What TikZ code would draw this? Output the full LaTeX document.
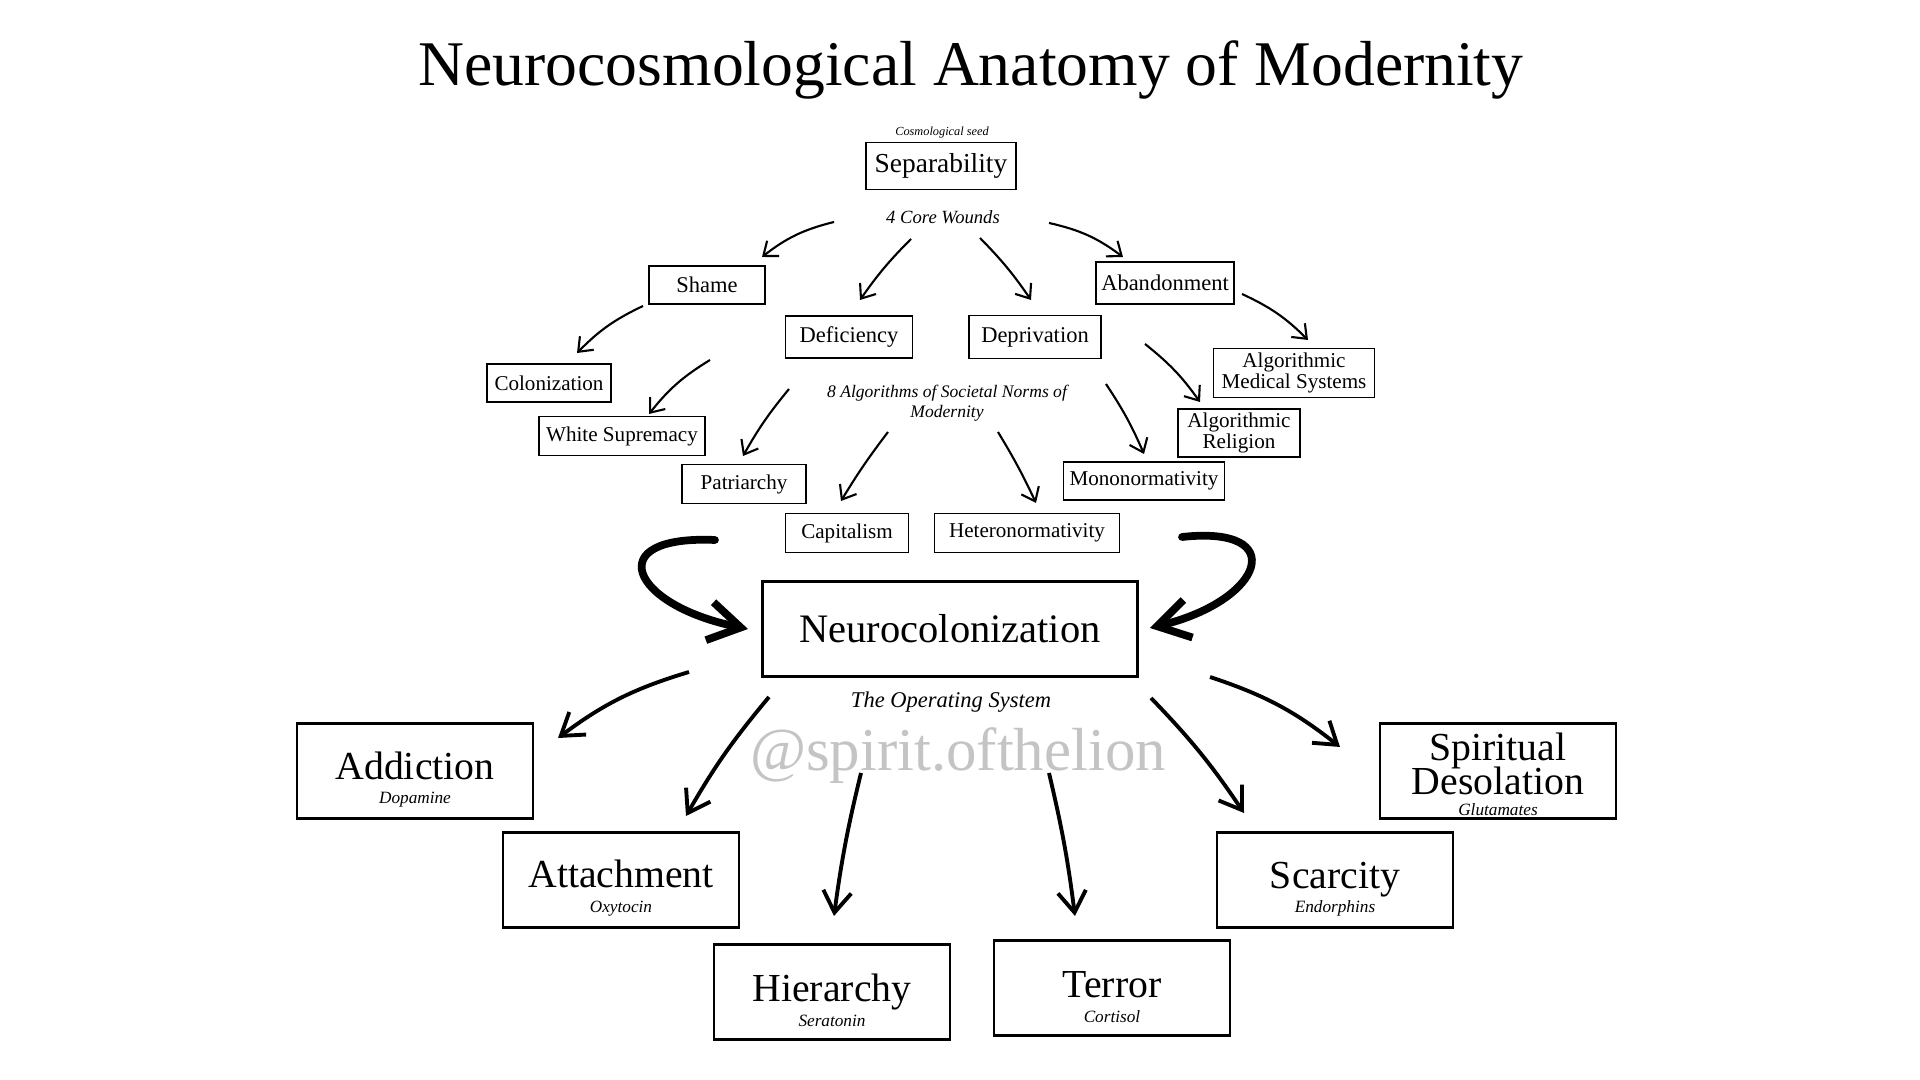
\documentclass[tikz,border=0pt]{standalone}
\usepackage{fontspec}
\setmainfont{Liberation Serif}
\usetikzlibrary{arrows.meta}
\definecolor{wasserzeichen}{RGB}{196,196,196}
\newcommand{\stoff}[1]{{\fontsize{4.9}{5}\selectfont\itshape #1}}
\newcommand{\folge}[2]{\rule{0pt}{12.6pt}#1\\\stoff{#2}}

\begin{document}
\begin{tikzpicture}[x=0.01cm, y=-0.01cm]

% 0. Blattgroesse und weisser Hintergrund
\fill[white] (0,0) rectangle (1920,1080);
\useasboundingbox (0,0) rectangle (1920,1080);

\tikzset{
  kasten/.style={draw, line width=0.4pt, inner sep=1pt, minimum height=0.38cm, align=center, font=\fontsize{6}{6.2}\selectfont},
  wundkasten/.style={kasten, font=\fontsize{6.4}{7}\selectfont},
  grosskasten/.style={draw, line width=0.75pt, inner sep=1pt, minimum width=2.36cm, minimum height=0.95cm, align=center, font={\fontsize{11.3}{7}\selectfont\lineskiplimit=-20pt}},
  notiz/.style={align=center, font=\fontsize{5.3}{5.6}\selectfont\itshape},
  duenn/.style={-{Straight Barb[length=3.5pt, width=5.5pt]}, line width=0.6pt},
  mittel/.style={-{Straight Barb[length=6pt, width=8pt]}, line width=1.1pt},
  pinsel/.style={-{Straight Barb[length=9pt, width=11pt]}, line width=2.2pt, line cap=round}
}

% 1. Titel
\node[font=\fontsize{18.1}{20}\selectfont] (titel) at (971,70) {Neurocosmological Anatomy of Modernity};

% 2. Kosmologischer Samen und die vier Wunden
\node[font=\fontsize{3.5}{4}\selectfont\itshape] (samen) at (942,133) {Cosmological seed};
\node[draw, line width=0.4pt, inner sep=1pt, minimum width=1.5cm, minimum height=0.47cm, font=\fontsize{7.8}{9}\selectfont] (separ) at (941,166) {Separability};
\node[notiz] (wunden) at (943,217) {4 Core Wounds};
\node[wundkasten, minimum width=1.16cm] (scham) at (707,285) {Shame};
\node[wundkasten, minimum width=1.27cm, minimum height=0.42cm] (mangel) at (849,337) {Deficiency};
\node[wundkasten, minimum width=1.32cm, minimum height=0.43cm] (entbehrung) at (1035,337) {Deprivation};
\node[wundkasten, minimum width=1.38cm, minimum height=0.42cm] (verlassen) at (1165,283) {Abandonment};

% 3. Die acht Algorithmen
\node[notiz, font=\fontsize{5}{5.6}\selectfont\itshape] (algos) at (947,403) {8 Algorithms of Societal Norms of\\Modernity};
\node[kasten, minimum width=1.24cm] (kolonial) at (549,383) {Colonization};
\node[kasten, minimum width=1.66cm, minimum height=0.39cm] (weiss) at (622,436) {White Supremacy};
\node[kasten, minimum width=1.24cm, minimum height=0.39cm] (patriarchat) at (744,484) {Patriarchy};
\node[kasten, minimum width=1.23cm, minimum height=0.39cm] (kapital) at (847,533) {Capitalism};
\node[kasten, minimum width=1.85cm, minimum height=0.39cm] (hetero) at (1027,533) {Heteronormativity};
\node[kasten, minimum width=1.61cm] (mono) at (1144,481) {Mononormativity};
\node[kasten, minimum width=1.22cm, minimum height=0.48cm] (religion) at (1239,433) {Algorithmic\\Religion};
\node[kasten, minimum width=1.61cm, minimum height=0.49cm] (medizin) at (1294,373) {Algorithmic\\Medical Systems};

% 4. Neurokolonisierung mit Wasserzeichen
\node[draw, line width=0.7pt, inner sep=1pt, minimum width=3.75cm, minimum height=0.95cm, font=\fontsize{11.5}{12}\selectfont] (neuro) at (950,629) {Neurocolonization};
\node[notiz, font=\fontsize{6.4}{7}\selectfont\itshape] (betrieb) at (951,702) {The Operating System};
\node[text=wasserzeichen, font=\fontsize{17.3}{20}\selectfont] (marke) at (958,756) {@spirit.ofthelion};

% 5. Die sechs Folgen
\node[grosskasten] (sucht) at (415,771) {\folge{Addiction}{Dopamine}};
\node[grosskasten] (bindung) at (621,880) {\folge{Attachment}{Oxytocin}};
\node[grosskasten] (hierarchie) at (832,992) {\folge{Hierarchy}{Seratonin}};
\node[grosskasten] (terror) at (1112,988) {\folge{Terror}{Cortisol}};
\node[grosskasten] (knappheit) at (1335,880) {\folge{Scarcity}{Endorphins}};
\node[grosskasten, inner sep=0pt] (oede) at (1498,771) {\rule{0pt}{9.5pt}Spiritual\\[2.8pt]Desolation\\[-1.2pt]\stoff{Glutamates}};

% 6. Duenne Pfeile oben
\draw[duenn] ([shift={(-109,5)}]wunden.center) to[bend right=12] ([shift={(55,-28)}]scham.center);
\draw[duenn] ([shift={(-32,22)}]wunden.center) to[bend right=5] ([shift={(11,-37)}]mangel.center);
\draw[duenn] ([shift={(37,21)}]wunden.center) to[bend left=5] ([shift={(-4,-37)}]entbehrung.center);
\draw[duenn] ([shift={(106,6)}]wunden.center) to[bend left=12] ([shift={(-42,-26)}]verlassen.center);
\draw[duenn] ([shift={(-64,21)}]scham.center) to[bend right=10] ([shift={(28,-30)}]kolonial.center);
\draw[duenn] ([shift={(-139,23)}]mangel.center) to[bend right=10] ([shift={(27,-22)}]weiss.center);
\draw[duenn] ([shift={(-158,-14)}]algos.center) to[bend right=5] ([shift={(-1,-28)}]patriarchat.center);
\draw[duenn] ([shift={(-59,29)}]algos.center) to[bend right=3] ([shift={(-6,-32)}]kapital.center);
\draw[duenn] ([shift={(51,29)}]algos.center) to[bend left=3] ([shift={(9,-30)}]hetero.center);
\draw[duenn] ([shift={(159,-19)}]algos.center) to[bend left=5] ([shift={(0,-27)}]mono.center);
\draw[duenn] ([shift={(110,7)}]entbehrung.center) to[bend left=8] ([shift={(-39,-31)}]religion.center);
\draw[duenn] ([shift={(77,11)}]verlassen.center) to[bend left=10] ([shift={(14,-33)}]medizin.center);

% 7. Pinselpfeile in die Neurokolonisierung
\coordinate (linksstart) at (715,540);
\coordinate (rechtsstart) at (1182,537);
\draw[pinsel] (linksstart) .. controls (600,535) and (630,605) .. ([shift={(-202,0)}]neuro.center);
\draw[pinsel] (rechtsstart) .. controls (1290,525) and (1265,600) .. ([shift={(200,-1)}]neuro.center);

% 8. Pfeile zu den Folgen
\draw[mittel] ([shift={(-261,43)}]neuro.center) to[bend right=10] ([shift={(143,-33)}]sucht.center);
\draw[mittel] ([shift={(-181,68)}]neuro.center) to[bend right=5] ([shift={(65,-64)}]bindung.center);
\draw[mittel] ([shift={(-89,144)}]neuro.center) to[bend right=3] ([shift={(2,-76)}]hierarchie.center);
\draw[mittel] ([shift={(99,144)}]neuro.center) to[bend left=3] ([shift={(-37,-72)}]terror.center);
\draw[mittel] ([shift={(201,69)}]neuro.center) to[bend left=5] ([shift={(-91,-67)}]knappheit.center);
\draw[mittel] ([shift={(260,48)}]neuro.center) to[bend left=10] ([shift={(-158,-24)}]oede.center);

\end{tikzpicture}
\end{document}
